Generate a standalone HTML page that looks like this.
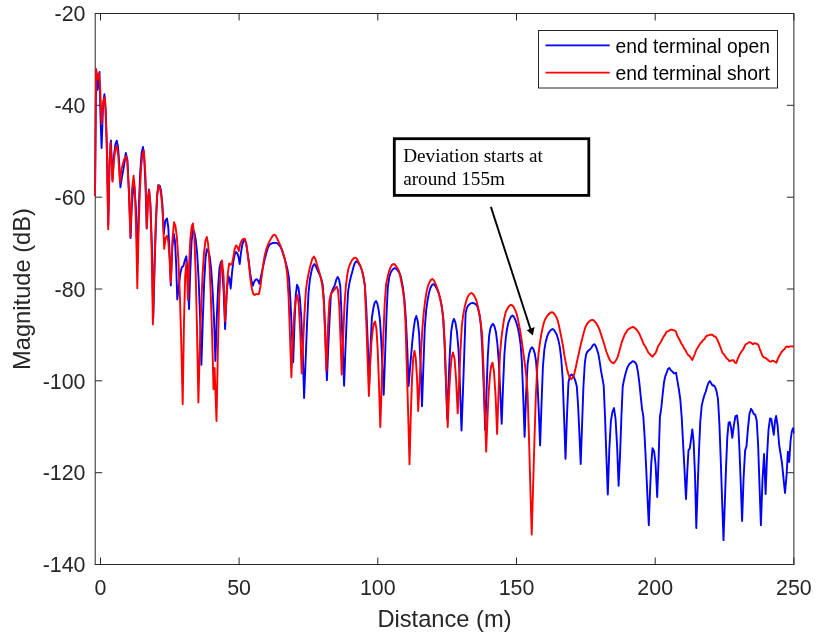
<!DOCTYPE html>
<html><head><meta charset="utf-8"><title>Magnitude vs Distance</title>
<style>
html,body{margin:0;padding:0;background:#fff;}
body{width:823px;height:639px;overflow:hidden;}
svg{display:block;will-change:transform;}
.tk text{font-family:"Liberation Sans",Arial,sans-serif;font-size:21.4px;fill:#262626;}
.lab{font-family:"Liberation Sans",Arial,sans-serif;font-size:23.7px;fill:#262626;}
.leg{font-family:"Liberation Sans",Arial,sans-serif;font-size:19.3px;fill:#000;}
.ann{font-family:"Liberation Serif","Times New Roman",serif;font-size:19.2px;fill:#000;}
</style></head><body>
<svg width="823" height="639" viewBox="0 0 823 639">
<rect width="823" height="639" fill="#fff"/>
<rect x="95.2" y="13.5" width="698.6999999999999" height="551.0" fill="none" stroke="#262626" stroke-width="1"/>
<path d="M100.5,564.5 v-7.0 M100.5,13.5 v7.0 M239.1,564.5 v-7.0 M239.1,13.5 v7.0 M377.8,564.5 v-7.0 M377.8,13.5 v7.0 M516.5,564.5 v-7.0 M516.5,13.5 v7.0 M655.2,564.5 v-7.0 M655.2,13.5 v7.0 M793.9,564.5 v-7.0 M793.9,13.5 v7.0 M95.2,13.5 h7.0 M793.9,13.5 h-7.0 M95.2,105.3 h7.0 M793.9,105.3 h-7.0 M95.2,197.2 h7.0 M793.9,197.2 h-7.0 M95.2,289.0 h7.0 M793.9,289.0 h-7.0 M95.2,380.8 h7.0 M793.9,380.8 h-7.0 M95.2,472.7 h7.0 M793.9,472.7 h-7.0 M95.2,564.5 h7.0 M793.9,564.5 h-7.0" stroke="#262626" stroke-width="1" fill="none"/>
<clipPath id="c"><rect x="94.2" y="13.5" width="700.1999999999999" height="551.0"/></clipPath>
<g clip-path="url(#c)" fill="none" stroke-linejoin="round" stroke-linecap="butt">
<path d="M95.0,196.0 L96.1,70.0 L97.6,90.0 L99.5,72.0 L100.5,117.3 L101.6,148.0 L103.0,106.7 L104.4,94.3 L105.7,109.6 L107.0,154.0 L108.3,225.0 L109.6,160.7 L110.9,140.5 L112.5,180.0 L113.9,156.3 L115.4,144.1 L116.8,140.7 L118.0,146.6 L119.2,162.9 L120.4,187.3 L121.8,177.7 L123.1,171.1 L124.5,162.5 L125.8,153.0 L127.4,160.0 L129.0,192.4 L130.6,238.0 L131.8,205.3 L133.1,189.9 L134.3,186.0 L135.9,207.7 L137.4,262.0 L138.8,207.7 L140.2,172.2 L141.6,152.9 L143.0,147.0 L144.2,157.5 L145.5,186.0 L146.7,228.5 L147.8,199.4 L149.0,189.5 L150.4,203.6 L151.9,246.2 L153.3,318.0 L154.6,266.3 L155.9,224.0 L157.1,195.5 L158.4,185.0 L159.8,185.8 L161.1,191.2 L162.5,205.7 L163.8,234.0 L165.4,220.4 L167.0,218.5 L168.3,227.5 L169.5,251.3 L170.8,285.4 L172.3,247.1 L173.8,234.0 L175.0,241.1 L176.1,262.8 L177.3,299.5 L178.8,286.1 L180.3,273.6 L181.8,267.2 L183.3,266.3 L184.8,260.5 L186.3,256.3 L187.7,272.6 L189.0,309.0 L190.3,270.3 L191.6,241.3 L192.9,230.0 L194.3,232.0 L195.7,239.4 L197.2,254.2 L198.6,278.7 L200.0,314.9 L201.4,364.8 L202.8,320.4 L204.1,283.6 L205.5,258.5 L206.8,249.2 L208.2,250.7 L209.7,256.4 L211.1,268.4 L212.5,288.5 L214.0,318.7 L215.4,361.0 L216.8,316.7 L218.2,285.9 L219.5,267.9 L220.9,262.0 L222.3,269.8 L223.7,292.6 L225.1,329.0 L226.8,290.6 L228.5,276.3 L229.6,278.6 L230.7,288.5 L232.0,273.2 L233.3,261.7 L234.7,254.5 L236.0,252.0 L237.2,253.1 L238.5,256.9 L239.7,264.1 L241.0,252.6 L242.2,245.1 L243.5,240.9 L244.8,239.7 L246.2,243.8 L247.5,252.6 L248.9,262.0 L250.2,273.7 L251.6,281.0 L252.9,285.7 L254.1,282.0 L255.4,279.9 L256.6,279.2 L258.0,280.4 L259.4,283.8 L260.8,277.2 L262.2,270.6 L263.6,264.2 L265.0,257.9 L266.4,252.8 L267.8,248.2 L269.3,245.0 L270.7,243.8 L272.1,243.2 L273.5,243.0 L274.9,242.9 L276.3,242.9 L277.7,243.5 L279.1,245.0 L280.5,246.9 L281.9,250.1 L283.3,254.4 L284.8,259.2 L286.2,264.1 L287.6,269.9 L289.0,278.1 L290.4,299.9 L291.8,330.5 L293.2,362.3 L294.5,323.6 L295.7,295.6 L297.0,284.8 L298.4,287.6 L299.8,297.6 L301.3,317.7 L302.7,350.2 L304.1,398.0 L305.6,360.7 L307.0,324.9 L308.5,293.0 L309.9,279.4 L311.4,271.5 L312.8,266.3 L314.3,264.1 L315.7,265.8 L317.1,269.2 L318.5,272.4 L319.9,275.1 L321.3,278.8 L322.7,284.6 L324.1,303.9 L325.5,340.2 L326.9,380.1 L328.2,349.0 L329.6,319.3 L330.9,294.4 L332.3,290.3 L333.6,287.8 L335.0,284.5 L336.3,279.6 L337.7,276.9 L339.0,279.4 L340.3,286.2 L341.5,314.0 L342.8,349.4 L344.1,385.7 L345.4,350.3 L346.8,316.5 L348.1,291.4 L349.5,282.9 L350.8,277.0 L352.2,271.9 L353.5,266.9 L354.9,262.9 L356.2,261.3 L357.6,262.1 L359.1,264.0 L360.5,266.5 L362.0,270.5 L363.4,276.6 L364.9,285.5 L366.3,308.1 L367.8,344.0 L369.2,385.0 L370.6,345.7 L371.9,317.4 L373.3,308.5 L374.6,302.9 L376.0,301.0 L377.3,303.4 L378.6,309.9 L379.9,319.4 L381.1,337.9 L382.4,365.7 L383.7,394.8 L385.1,355.7 L386.4,317.7 L387.8,287.3 L389.2,277.3 L390.6,272.8 L391.9,270.5 L393.3,268.8 L394.7,268.2 L396.1,268.7 L397.5,270.1 L398.9,272.1 L400.3,275.0 L401.6,280.4 L403.0,288.0 L404.4,299.4 L405.8,317.3 L407.2,346.5 L408.6,386.0 L409.9,370.0 L411.2,354.5 L412.5,339.4 L413.7,328.6 L415.0,319.7 L416.3,316.0 L417.7,320.9 L419.1,333.3 L420.6,365.1 L422.0,406.2 L423.4,365.7 L424.8,327.6 L426.2,310.2 L427.6,300.0 L429.0,292.7 L430.4,288.0 L431.8,285.3 L433.2,284.1 L434.6,285.0 L436.0,287.1 L437.4,289.8 L438.8,293.4 L440.2,298.4 L441.6,305.1 L443.0,316.7 L444.4,340.0 L445.8,378.5 L447.2,419.0 L448.5,384.6 L449.9,351.9 L451.2,331.5 L452.6,322.5 L453.9,318.9 L455.4,322.4 L456.9,331.6 L458.5,349.1 L460.0,387.3 L461.5,430.5 L462.9,393.7 L464.2,355.2 L465.6,313.4 L466.9,307.9 L468.2,305.5 L469.6,304.2 L470.9,303.3 L472.3,302.9 L473.7,303.2 L475.2,303.9 L476.6,305.0 L478.0,308.3 L479.5,314.7 L480.9,325.4 L482.3,349.5 L483.8,388.8 L485.2,430.0 L486.5,392.1 L487.8,356.3 L489.1,336.2 L490.4,328.3 L491.7,325.1 L493.0,323.8 L494.4,326.3 L495.9,332.0 L497.4,343.8 L498.8,361.9 L500.2,391.6 L501.7,423.8 L503.1,385.3 L504.4,354.5 L505.8,337.7 L507.1,328.5 L508.4,322.6 L509.8,319.1 L511.1,316.5 L512.5,315.5 L513.8,316.7 L515.2,319.7 L516.5,323.2 L517.9,327.9 L519.2,334.5 L520.6,344.4 L521.9,362.4 L523.3,398.1 L524.6,436.7 L526.1,393.9 L527.6,364.0 L529.1,353.9 L530.6,349.0 L532.1,347.2 L533.4,349.1 L534.8,353.6 L536.1,361.6 L537.4,380.7 L538.8,412.2 L540.1,445.4 L541.5,404.8 L542.9,366.8 L544.3,350.2 L545.7,341.9 L547.1,336.7 L548.5,333.1 L549.9,331.1 L551.3,329.6 L552.7,329.0 L554.1,330.0 L555.5,332.4 L557.0,335.4 L558.4,340.1 L559.8,347.1 L561.2,358.2 L562.7,378.9 L564.1,417.8 L565.5,458.7 L567.0,415.0 L568.5,381.9 L570.0,375.7 L571.5,374.5 L572.8,375.4 L574.1,377.6 L575.4,380.9 L576.8,386.4 L578.1,405.6 L579.4,433.9 L580.7,464.0 L582.1,424.5 L583.4,387.1 L584.8,363.2 L586.1,354.4 L587.5,351.5 L588.8,350.3 L590.2,349.3 L591.5,347.5 L592.9,345.3 L594.2,344.2 L595.6,345.6 L596.9,349.2 L598.3,353.6 L599.6,361.2 L601.0,370.6 L602.4,378.4 L603.7,385.6 L605.1,418.5 L606.4,456.8 L607.8,494.5 L609.3,449.7 L610.9,420.8 L612.5,411.6 L614.0,408.1 L615.5,418.3 L617.1,445.9 L618.6,485.8 L620.0,456.4 L621.4,416.9 L622.7,386.8 L624.1,379.4 L625.5,373.7 L626.9,368.9 L628.3,365.7 L629.7,363.6 L631.0,362.8 L632.4,361.3 L633.8,361.4 L635.2,362.4 L636.5,364.5 L637.9,371.6 L639.3,382.3 L640.6,395.2 L642.0,408.7 L643.3,416.1 L644.7,437.9 L646.1,466.2 L647.4,495.5 L648.8,525.1 L650.0,491.7 L651.3,462.9 L652.5,448.2 L654.1,451.2 L655.6,464.5 L657.2,497.0 L658.6,459.1 L659.9,417.2 L661.3,408.2 L662.6,395.0 L664.0,382.3 L665.3,376.1 L666.7,372.7 L668.0,369.0 L669.4,367.9 L670.9,370.2 L672.5,371.6 L674.0,373.5 L676.0,372.6 L677.4,380.6 L678.9,389.5 L680.3,399.3 L681.7,417.4 L683.1,443.5 L684.6,471.7 L686.0,499.0 L687.3,471.0 L688.5,450.2 L689.8,448.4 L691.0,439.6 L692.3,429.4 L693.6,441.3 L695.0,474.7 L696.3,528.0 L697.6,488.6 L699.0,450.8 L700.3,421.3 L701.7,405.9 L703.0,400.1 L704.4,395.2 L705.8,391.5 L707.1,386.8 L708.4,383.0 L709.8,381.1 L711.2,383.2 L712.5,385.5 L713.9,385.4 L715.3,387.5 L716.6,391.4 L718.0,399.1 L719.4,423.6 L720.8,461.2 L722.1,500.3 L723.5,540.1 L724.8,503.8 L726.0,468.2 L727.3,437.4 L728.6,422.9 L729.8,422.1 L731.1,427.8 L732.3,437.9 L733.9,425.2 L735.4,416.3 L737.0,415.4 L738.3,426.3 L739.5,450.9 L740.8,484.8 L742.1,521.0 L743.6,477.8 L745.1,450.6 L746.5,446.1 L748.0,428.1 L749.5,413.7 L751.0,408.8 L752.4,411.0 L753.8,414.2 L755.2,414.4 L756.7,420.8 L758.1,444.3 L759.5,485.0 L760.9,525.1 L762.5,479.7 L764.1,454.0 L765.6,494.0 L767.1,454.7 L768.5,430.1 L770.0,418.5 L771.3,418.9 L772.5,426.9 L773.8,434.8 L775.0,420.9 L776.1,416.0 L777.6,425.5 L779.1,444.5 L780.5,453.4 L782.0,463.1 L783.5,478.3 L785.0,493.0 L786.5,476.2 L787.9,451.6 L789.2,462.0 L790.5,441.4 L791.8,431.5 L793.1,428.2 L794.3,433.5" stroke="#0000ff" stroke-width="1.9"/>
<path d="M95.0,196.0 L96.1,69.0 L97.4,79.0 L98.8,73.5 L100.2,88.4 L101.6,124.0 L103.3,100.8 L105.0,97.5 L106.6,137.4 L108.2,229.3 L109.4,165.5 L110.6,142.4 L112.5,181.6 L113.9,160.3 L115.3,149.2 L116.7,146.0 L118.3,156.2 L120.0,182.6 L121.5,169.2 L122.9,163.8 L124.3,159.1 L125.8,156.0 L127.3,161.2 L128.9,192.1 L130.4,236.8 L132.0,189.5 L133.6,175.8 L134.8,189.4 L136.1,227.9 L137.3,288.3 L138.6,230.3 L139.9,190.6 L141.2,166.2 L142.5,153.8 L143.8,150.4 L145.4,173.7 L146.9,228.0 L148.1,198.5 L149.2,190.1 L150.4,206.1 L151.7,251.8 L152.9,324.4 L154.3,269.1 L155.7,225.1 L157.1,195.9 L158.5,185.4 L159.9,187.5 L161.3,196.3 L162.8,215.4 L164.2,248.8 L165.6,238.1 L167.0,235.7 L168.3,241.6 L169.5,258.0 L170.8,282.6 L172.4,240.6 L174.0,222.3 L175.4,225.7 L176.9,237.3 L178.3,258.9 L179.8,292.7 L181.2,340.5 L182.7,404.3 L184.0,321.0 L185.2,275.7 L186.5,262.0 L188.0,300.0 L189.2,261.7 L190.4,238.3 L191.7,226.7 L192.9,223.5 L194.3,236.5 L195.7,273.1 L197.0,329.6 L198.4,402.4 L199.8,348.1 L201.2,305.7 L202.6,274.3 L204.0,253.0 L205.4,240.8 L206.8,237.0 L208.1,243.9 L209.5,263.9 L210.8,295.6 L212.2,337.8 L213.5,389.2 L214.6,368.0 L216.5,421.0 L217.9,349.1 L219.2,299.1 L220.6,269.9 L222.0,260.4 L223.6,276.4 L225.1,321.4 L226.5,296.5 L227.8,273.5 L229.2,263.5 L230.6,264.7 L231.9,264.1 L233.3,257.5 L234.6,249.4 L236.0,245.4 L237.4,246.7 L238.8,251.0 L240.3,243.9 L241.8,240.3 L243.3,239.0 L244.8,238.8 L246.2,243.4 L247.6,253.4 L249.0,265.1 L250.5,279.7 L251.9,288.9 L253.3,293.9 L254.7,295.0 L256.1,293.9 L257.5,294.2 L258.9,294.0 L260.4,287.0 L261.8,275.5 L263.2,264.8 L264.6,256.1 L266.0,250.4 L267.4,246.0 L268.8,242.6 L270.3,239.9 L271.7,237.4 L273.1,235.4 L274.5,234.6 L275.9,235.9 L277.3,238.8 L278.7,241.8 L280.1,244.8 L281.5,248.3 L282.9,252.5 L284.4,257.6 L285.8,264.1 L287.2,273.9 L288.6,297.3 L290.0,336.2 L291.4,377.3 L292.9,337.2 L294.4,312.0 L295.9,298.9 L297.4,295.1 L298.8,305.4 L300.3,333.1 L301.7,373.5 L303.1,343.6 L304.4,314.9 L305.8,291.5 L307.1,281.2 L308.5,273.9 L309.8,268.0 L311.2,262.5 L312.5,258.3 L313.9,256.6 L315.3,258.7 L316.7,263.4 L318.1,268.2 L319.5,272.7 L320.8,278.1 L322.2,285.3 L323.6,297.9 L325.0,330.7 L326.4,370.7 L327.9,328.6 L329.4,301.0 L330.9,294.4 L332.3,292.0 L333.8,290.4 L335.3,288.4 L336.8,286.7 L338.0,290.0 L339.2,304.9 L340.5,338.4 L341.7,374.5 L343.1,339.7 L344.4,306.6 L345.8,286.7 L347.1,276.1 L348.4,268.7 L349.8,264.6 L351.1,261.8 L352.5,259.6 L353.8,258.1 L355.2,257.6 L356.6,258.5 L357.9,260.7 L359.3,263.7 L360.7,266.8 L362.0,270.5 L363.4,276.2 L364.8,285.9 L366.2,319.3 L367.5,357.3 L368.9,396.0 L370.2,364.3 L371.4,342.8 L372.7,329.8 L373.9,323.3 L375.2,321.6 L376.5,329.7 L377.8,351.9 L379.0,385.3 L380.3,427.0 L381.8,382.1 L383.2,338.8 L384.7,303.6 L386.1,284.3 L387.6,277.1 L389.0,271.5 L390.5,267.4 L391.9,264.9 L393.4,264.0 L394.7,264.5 L396.1,266.0 L397.4,268.0 L398.8,270.6 L400.1,275.3 L401.4,282.2 L402.8,289.8 L404.1,298.9 L405.5,322.7 L406.8,367.5 L408.2,414.9 L409.5,464.2 L410.8,414.9 L412.0,379.5 L413.2,358.1 L414.5,351.0 L415.7,357.6 L417.0,377.5 L418.2,411.0 L419.6,381.7 L421.0,353.2 L422.4,328.2 L423.8,312.2 L425.2,300.4 L426.7,290.9 L428.1,285.7 L429.5,282.3 L430.9,279.9 L432.3,279.0 L433.7,280.2 L435.1,283.0 L436.5,286.2 L437.9,290.2 L439.3,295.3 L440.7,301.5 L442.1,309.1 L443.5,319.9 L444.9,346.9 L446.3,386.0 L447.7,427.0 L449.0,394.2 L450.4,370.9 L451.7,357.0 L453.0,352.4 L454.6,359.3 L456.1,379.7 L457.7,413.4 L459.1,381.7 L460.4,351.3 L461.8,326.4 L463.1,315.6 L464.4,308.3 L465.8,302.5 L467.1,298.1 L468.5,295.5 L469.8,293.8 L471.2,293.0 L472.6,293.7 L473.9,295.4 L475.3,297.8 L476.7,301.4 L478.0,307.2 L479.4,314.2 L480.7,322.3 L482.1,334.1 L483.5,367.3 L484.8,408.5 L486.2,451.6 L487.5,417.2 L488.7,392.0 L490.0,375.1 L491.2,365.7 L492.5,362.7 L494.0,371.6 L495.6,396.4 L497.1,434.0 L498.5,393.3 L499.9,355.7 L501.3,339.1 L502.7,328.1 L504.1,318.9 L505.6,312.5 L507.0,309.4 L508.4,307.0 L509.8,305.4 L511.2,304.8 L512.6,305.6 L513.9,307.6 L515.3,310.2 L516.7,314.0 L518.0,319.9 L519.4,326.8 L520.8,334.4 L522.1,343.7 L523.5,354.0 L524.9,364.3 L526.2,375.4 L527.6,393.4 L529.0,438.1 L530.3,485.4 L531.7,534.5 L533.1,487.0 L534.4,441.2 L535.8,397.0 L537.1,369.8 L538.5,353.9 L539.9,342.8 L541.2,334.8 L542.6,328.0 L543.9,322.5 L545.3,319.0 L546.7,316.8 L548.0,315.0 L549.4,313.5 L550.7,312.5 L552.1,312.2 L553.5,312.9 L554.8,314.6 L556.2,316.9 L557.5,320.0 L558.9,325.3 L560.2,331.8 L561.6,338.6 L563.0,346.2 L564.3,354.6 L565.7,362.3 L567.0,368.9 L568.4,374.6 L569.7,377.3 L571.1,379.3 L572.5,377.5 L573.9,375.2 L575.3,369.6 L576.8,362.5 L578.2,356.1 L579.6,349.7 L581.0,343.5 L582.4,338.0 L583.8,332.6 L585.2,327.7 L586.6,324.6 L588.1,322.7 L589.5,321.2 L590.9,320.2 L592.3,319.8 L593.7,320.4 L595.1,321.9 L596.6,323.9 L598.0,326.3 L599.4,329.4 L600.8,333.6 L602.2,338.1 L603.7,342.5 L605.1,347.4 L606.5,352.0 L607.9,355.7 L609.3,359.1 L610.8,361.6 L612.2,362.6 L613.6,363.3 L615.0,361.7 L616.3,359.8 L617.6,357.2 L619.0,352.2 L620.4,347.2 L621.7,342.4 L623.0,338.9 L624.4,335.3 L625.8,332.7 L627.1,330.7 L628.5,329.2 L629.8,328.4 L631.1,327.7 L632.5,327.0 L633.9,327.2 L635.4,328.5 L636.8,330.0 L638.2,331.8 L639.6,334.3 L641.1,337.9 L642.5,341.0 L643.9,344.7 L645.4,346.5 L646.8,349.4 L648.2,352.3 L649.6,353.8 L651.1,355.5 L652.5,356.7 L653.9,354.7 L655.3,353.3 L656.6,350.8 L658.0,346.3 L659.4,344.3 L660.8,342.1 L662.1,339.5 L663.5,336.6 L664.9,335.0 L666.3,332.1 L667.6,331.3 L669.0,330.8 L670.4,329.8 L671.8,329.7 L673.1,330.1 L674.5,330.5 L675.9,331.5 L677.2,335.4 L678.6,338.0 L680.0,340.7 L681.3,343.5 L682.7,345.3 L684.1,348.4 L685.5,350.1 L686.8,352.9 L688.2,355.1 L689.6,356.0 L690.9,358.1 L692.3,359.9 L693.6,357.0 L695.0,353.5 L696.3,350.0 L697.7,347.8 L699.0,345.5 L700.4,343.2 L701.7,342.1 L703.1,340.0 L704.4,339.2 L705.8,336.8 L707.1,335.5 L708.5,335.5 L709.8,334.7 L711.2,334.7 L712.6,334.8 L714.0,336.4 L715.4,336.4 L716.7,338.6 L718.1,341.4 L719.5,344.8 L720.9,348.5 L722.3,352.5 L723.7,354.2 L725.1,355.9 L726.5,358.2 L727.9,359.2 L729.3,361.1 L730.6,360.8 L732.0,360.2 L733.4,360.1 L734.8,362.5 L736.2,363.1 L737.6,359.2 L739.0,355.8 L740.3,353.4 L741.7,351.2 L743.1,349.5 L744.5,346.5 L745.9,344.1 L747.2,343.7 L748.6,342.4 L750.0,342.3 L751.4,342.9 L752.8,344.3 L754.2,343.3 L755.5,343.5 L756.9,343.8 L758.3,344.9 L759.7,348.8 L761.1,352.3 L762.5,356.0 L763.8,357.4 L765.2,357.7 L766.6,358.8 L768.0,360.0 L769.4,361.3 L770.8,361.7 L772.1,360.7 L773.5,360.9 L774.9,361.8 L776.3,362.8 L777.6,359.4 L779.0,356.5 L780.3,354.1 L781.7,351.9 L783.0,350.3 L784.4,349.2 L785.7,347.0 L787.1,346.4 L788.4,347.1 L789.8,346.4 L791.1,346.4 L792.5,346.5 L793.8,346.4" stroke="#ff0000" stroke-width="1.9"/>
</g>
<g class="tk"><text x="100.5" y="594.8" text-anchor="middle">0</text><text x="239.1" y="594.8" text-anchor="middle">50</text><text x="377.8" y="594.8" text-anchor="middle">100</text><text x="516.5" y="594.8" text-anchor="middle">150</text><text x="655.2" y="594.8" text-anchor="middle">200</text><text x="793.9" y="594.8" text-anchor="middle">250</text><text x="85.5" y="21.2" text-anchor="end">-20</text><text x="85.5" y="113.0" text-anchor="end">-40</text><text x="85.5" y="204.9" text-anchor="end">-60</text><text x="85.5" y="296.7" text-anchor="end">-80</text><text x="85.5" y="388.5" text-anchor="end">-100</text><text x="85.5" y="480.4" text-anchor="end">-120</text><text x="85.5" y="572.2" text-anchor="end">-140</text></g>
<text class="lab" x="444.5" y="626.5" text-anchor="middle">Distance (m)</text>
<text class="lab" transform="translate(30.3,289) rotate(-90)" text-anchor="middle">Magnitude (dB)</text>
<!-- legend -->
<rect x="538.5" y="30.5" width="239" height="57.5" fill="#fff" stroke="#262626" stroke-width="1"/>
<line x1="545.5" y1="45.4" x2="609.7" y2="45.4" stroke="#0000ff" stroke-width="1.9"/>
<line x1="545.5" y1="72.6" x2="609.7" y2="72.6" stroke="#ff0000" stroke-width="1.9"/>
<text class="leg" x="615.5" y="52.6">end terminal open</text>
<text class="leg" x="615.5" y="79.8">end terminal short</text>
<!-- annotation -->
<rect x="394.3" y="138.7" width="194.5" height="56.7" fill="#fff" stroke="#000" stroke-width="2.8"/>
<text class="ann" x="403.2" y="162.3">Deviation starts at</text>
<text class="ann" x="403.2" y="184.7">around 155m</text>
<line x1="490.9" y1="206.9" x2="530.6" y2="329.5" stroke="#000" stroke-width="1.9"/>
<polygon points="532.8,335.6 526.8,330.2 534.6,327.0" fill="#000"/>
</svg>
</body></html>
